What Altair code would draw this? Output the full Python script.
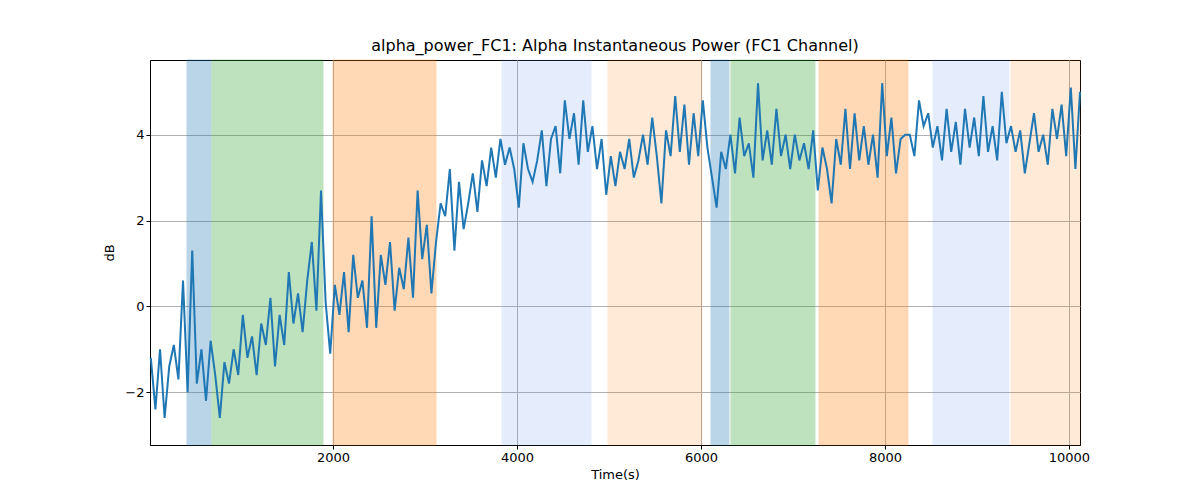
import altair as alt
import pandas as pd

times = list(range(20, 10121, 50))
power = [
    -1.2, -2.4, -1.0, -2.6, -1.4, -0.9, -1.7, 0.6, -2.0, 1.3,
    -1.8, -1.0, -2.2, -0.8, -1.6, -2.6, -1.3, -1.8, -1.0, -1.6,
    -0.2, -1.2, -0.7, -1.6, -0.4, -0.9, 0.2, -1.4, -0.2, -0.9,
    0.8, -0.4, 0.3, -0.6, 0.6, 1.5, -0.1, 2.7, 0.1, -1.1,
    0.5, -0.2, 0.8, -0.6, 1.2, 0.2, 0.6, -0.5, 2.1, -0.5,
    1.2, 0.5, 1.5, -0.1, 0.9, 0.4, 1.6, 0.2, 2.7, 1.1,
    1.9, 0.3, 1.5, 2.4, 2.1, 3.2, 1.3, 2.9, 1.8, 2.4,
    3.1, 2.2, 3.4, 2.8, 3.7, 3.0, 3.9, 3.3, 3.7, 3.2,
    2.3, 3.8, 3.2, 2.9, 3.4, 4.1, 2.8, 3.9, 4.2, 3.1,
    4.8, 3.9, 4.5, 3.3, 4.8, 3.6, 4.2, 3.2, 3.9, 2.6,
    3.5, 2.8, 3.6, 3.2, 3.9, 3.0, 3.4, 4.0, 3.3, 4.4,
    3.5, 2.4, 4.1, 3.5, 4.9, 3.6, 4.7, 3.3, 4.5, 3.5,
    4.8, 3.7, 3.0, 2.3, 3.6, 3.2, 4.0, 3.1, 4.4, 3.5,
    3.8, 3.0, 5.2, 3.4, 4.1, 3.3, 4.6, 3.5, 4.0, 3.2,
    4.0, 3.4, 3.8, 3.2, 4.1, 2.7, 3.7, 3.2, 2.4, 3.9,
    3.3, 4.6, 3.2, 4.5, 3.4, 4.2, 3.3, 4.0, 3.0, 5.2,
    3.5, 4.4, 3.1, 3.9, 4.0, 4.0, 3.5, 4.8, 4.2, 4.5,
    3.7, 4.2, 3.4, 4.6, 3.6, 4.3, 3.3, 4.6, 3.7, 4.4,
    3.5, 4.9, 3.6, 4.2, 3.4, 5.0, 3.8, 4.2, 3.6, 4.1,
    3.1, 3.8, 4.5, 3.6, 4.0, 3.3, 4.6, 3.9, 4.7, 3.5,
    5.1, 3.2, 5.0,
]
power = power[:len(times)]

span_start = [413, 685, 2000, 3837, 4989, 6109, 6326, 7283, 8522, 9370]
span_end = [674, 1891, 3120, 4804, 6011, 6304, 7239, 8250, 9348, 10120]
span_kind = ["b", "g", "o", "lb", "lo", "b", "g", "o", "lb", "lo"]
kind_color = {"b": "#1f77b4", "g": "#2ca02c", "o": "#ff7f0e", "lb": "#6495ed", "lo": "#ff7f0e"}
kind_alpha = {"b": 0.3, "g": 0.3, "o": 0.3, "lb": 0.16, "lo": 0.16}

line_df = pd.DataFrame({"t": times, "v": power})
span_df = pd.DataFrame({
    "x0": span_start, "x1": span_end,
    "c": [kind_color[k] for k in span_kind],
    "a": [kind_alpha[k] for k in span_kind],
})

xs = alt.Scale(domain=[11, 10120], nice=False, zero=False)
ys = alt.Scale(domain=[-3.23, 5.74], nice=False, zero=False)

spans = alt.Chart(span_df).mark_rect(strokeWidth=1).encode(
    x=alt.X("x0:Q", scale=xs),
    x2="x1",
    color=alt.Color("c:N", scale=None),
    stroke=alt.Color("c:N", scale=None),
    opacity=alt.Opacity("a:Q", scale=None),
)

line = alt.Chart(line_df).mark_line(color="#1f77b4", strokeWidth=2).encode(
    x=alt.X("t:Q", scale=xs,
            axis=alt.Axis(values=[2000, 4000, 6000, 8000, 10000], title="Time(s)", format="d")),
    y=alt.Y("v:Q", scale=ys, axis=alt.Axis(values=[-2, 0, 2, 4], title="dB")),
)

chart = (spans + line).properties(
    width=930, height=385,
    title="alpha_power_FC1: Alpha Instantaneous Power (FC1 Channel)",
    autosize=alt.AutoSizeParams(type="none"),
    padding={"left": 142, "top": 52, "right": 100, "bottom": 40},
).configure_view(stroke="black", strokeWidth=1
).configure_axis(
    grid=True, gridColor="#b0b0b0", gridWidth=1,
    domainColor="black", tickColor="black", tickSize=4,
    labelFont="DejaVu Sans", titleFont="DejaVu Sans",
    labelFontSize=13, titleFontSize=13, titleFontWeight="normal",
    labelColor="black", titleColor="black",
).configure_axisX(titlePadding=4).configure_axisY(titlePadding=8
).configure_title(font="DejaVu Sans", fontSize=16, fontWeight="normal", offset=6)

chart.save("out.html", embed_options={"renderer": "svg", "actions": False})
